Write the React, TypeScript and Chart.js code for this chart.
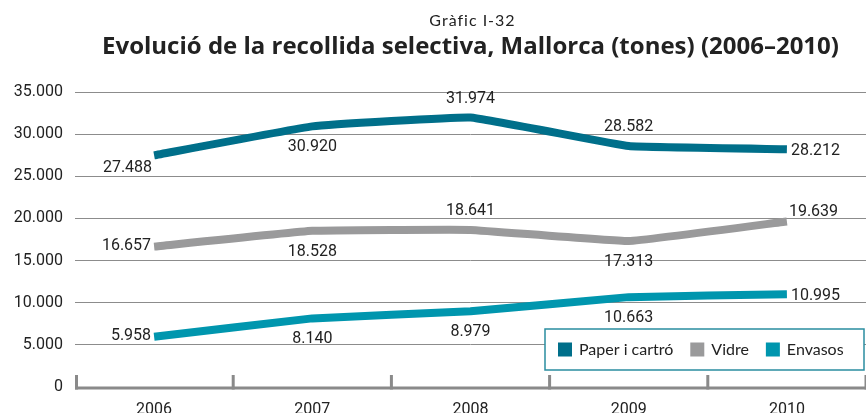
import React, { useEffect, useRef } from "react";
import { Chart, registerables } from "chart.js";

Chart.register(...registerables);

const YEARS = ["2006", "2007", "2008", "2009", "2010"];
const PAPER = [27488, 30920, 31974, 28582, 28212];
const VIDRE = [16657, 18528, 18641, 17313, 19639];
const ENVASOS = [5958, 8140, 8979, 10663, 10995];
const SERIES_NAMES = ["Paper i cartró", "Vidre", "Envasos"];
const SERIES_COLORS = ["#006f8a", "#9a9a9b", "#0096ae"];
const Y_MIN = 0;
const Y_MAX = 35000;
const Y_STEP = 5000;
const SUBTITLE = "Gràfic I-32";
const TITLE = "Evolució de la recollida selectiva, Mallorca (tones) (2006–2010)";

// label placement per point (style only)
const LABEL_POS = [
  ["belowLeft", "below", "above", "above", "right"],
  ["left", "below", "above", "below", "aboveRight"],
  ["left", "below", "below", "below", "right"],
];

const fmt = (n: number) =>
  String(Math.round(n)).replace(/\B(?=(\d{3})+(?!\d))/g, ".");

const NUM_FONT = "16px Roboto";
const TEXT_COLOR = "#222";

const titlePlugin = {
  id: "titles",
  afterDraw(chart: any) {
    const { ctx, chartArea } = chart;
    const cx = (chartArea.left + chartArea.right) / 2;
    ctx.save();
    ctx.fillStyle = TEXT_COLOR;
    ctx.textAlign = "center";
    ctx.textBaseline = "alphabetic";
    ctx.font = "16px Lato";
    try { (ctx as any).letterSpacing = "1px"; } catch (e) {}
    ctx.fillText(SUBTITLE, cx + 2, 26);
    try { (ctx as any).letterSpacing = "0px"; } catch (e) {}
    ctx.font = "bold 24px 'Open Sans'";
    ctx.fillText(TITLE, cx, 54);
    ctx.restore();
  },
};

const axisPlugin = {
  id: "bottomAxis",
  afterDatasetsDraw(chart: any) {
    const { ctx, chartArea } = chart;
    const xs = chart.scales.x;
    const n = chart.data.labels.length;
    const step = xs.getPixelForValue(1) - xs.getPixelForValue(0);
    const first = xs.getPixelForValue(0) - step / 2;
    const yb = chartArea.bottom + 1;
    ctx.save();
    ctx.strokeStyle = "#8a8a8a";
    ctx.lineWidth = 3;
    ctx.lineCap = "butt";
    ctx.beginPath();
    ctx.moveTo(chartArea.left, yb);
    ctx.lineTo(chartArea.right, yb);
    ctx.stroke();
    for (let i = 0; i <= n; i++) {
      const x = first + i * step + (i === 0 ? 1.5 : 0);
      ctx.beginPath();
      ctx.moveTo(x, yb + 1.5);
      ctx.lineTo(x, yb - 13);
      ctx.stroke();
    }
    ctx.restore();
  },
};

const labelPlugin = {
  id: "pointLabels",
  afterDatasetsDraw(chart: any) {
    const { ctx } = chart;
    ctx.save();
    ctx.font = NUM_FONT;
    ctx.fillStyle = TEXT_COLOR;
    ctx.textBaseline = "middle";
    chart.data.datasets.forEach((ds: any, di: number) => {
      const meta = chart.getDatasetMeta(di);
      meta.data.forEach((pt: any, i: number) => {
        let x = pt.x;
        let y = pt.y;
        let align = "center";
        switch (LABEL_POS[di][i]) {
          case "above":
            y -= 19;
            break;
          case "below":
            y += 21;
            break;
          case "left":
            x -= 3;
            align = "right";
            y -= 1;
            break;
          case "right":
            x += 4;
            align = "left";
            y += 2;
            break;
          case "belowLeft":
            x -= 2;
            y += 13;
            align = "right";
            break;
          case "aboveRight":
            x += 2;
            y -= 9;
            align = "left";
            break;
        }
        ctx.textAlign = align;
        ctx.fillText(fmt(ds.data[i]), x, y);
      });
    });
    ctx.restore();
  },
};

const legendPlugin = {
  id: "boxLegend",
  afterDraw(chart: any) {
    const { ctx, chartArea } = chart;
    const right = chartArea.right - 2;
    const left = right - 319;
    const top = chartArea.bottom - 58;
    const bottom = chartArea.bottom - 17;
    ctx.save();
    ctx.fillStyle = "#ffffff";
    ctx.fillRect(left, top, right - left, bottom - top);
    ctx.strokeStyle = "#2a8da0";
    ctx.lineWidth = 1.5;
    ctx.strokeRect(left, top, right - left, bottom - top);
    ctx.font = "16px Lato";
    ctx.textBaseline = "middle";
    ctx.textAlign = "left";
    const cy = (top + bottom) / 2;
    let x = left + 13;
    SERIES_NAMES.forEach((name, i) => {
      ctx.fillStyle = SERIES_COLORS[i];
      ctx.fillRect(x, cy - 7, 14, 14);
      ctx.fillStyle = TEXT_COLOR;
      const tx = x + 21;
      ctx.fillText(name, tx, cy);
      x = tx + ctx.measureText(name).width + 17;
    });
    ctx.restore();
  },
};

export default function App() {
  const ref = useRef<HTMLCanvasElement | null>(null);

  useEffect(() => {
    if (!ref.current) return;
    const series = [PAPER, VIDRE, ENVASOS];
    const chart = new Chart(ref.current, {
      type: "line",
      data: {
        labels: YEARS,
        datasets: series.map((d, i) => ({
          label: SERIES_NAMES[i],
          data: d,
          borderColor: SERIES_COLORS[i],
          backgroundColor: SERIES_COLORS[i],
          borderWidth: 8,
          pointRadius: 0,
          tension: 0.08,
          borderCapStyle: "butt",
          borderJoinStyle: "round",
          fill: false,
        })),
      },
      options: {
        responsive: false,
        animation: false,
        layout: { padding: { top: 92, left: 0, right: 0, bottom: 0 } },
        plugins: {
          legend: { display: false },
          title: { display: false },
          tooltip: { enabled: false },
        },
        scales: {
          x: {
            type: "category",
            offset: true,
            grid: { display: false },
            border: { display: false },
            ticks: {
              font: { family: "Roboto", size: 16 },
              color: TEXT_COLOR,
              padding: 5,
              maxRotation: 0,
              autoSkip: false,
            },
            afterFit: (s: any) => {
              s.height = 26;
            },
          },
          y: {
            min: Y_MIN,
            max: Y_MAX,
            ticks: {
              stepSize: Y_STEP,
              callback: (v: any) => fmt(Number(v)),
              font: { family: "Roboto", size: 16 },
              color: TEXT_COLOR,
              padding: 12,
            },
            grid: { color: "#8c8c8c", lineWidth: 1, drawTicks: false },
            border: { display: false },
            afterFit: (s: any) => {
              s.width = 75;
            },
          },
        },
      },
      plugins: [axisPlugin, labelPlugin, legendPlugin, titlePlugin],
    } as any);
    return () => chart.destroy();
  }, []);

  return (
    <div
      style={{
        position: "fixed",
        left: 0,
        top: 0,
        width: 866,
        height: 413,
        background: "#fff",
      }}
    >
      <canvas ref={ref} width={866} height={413} />
    </div>
  );
}
